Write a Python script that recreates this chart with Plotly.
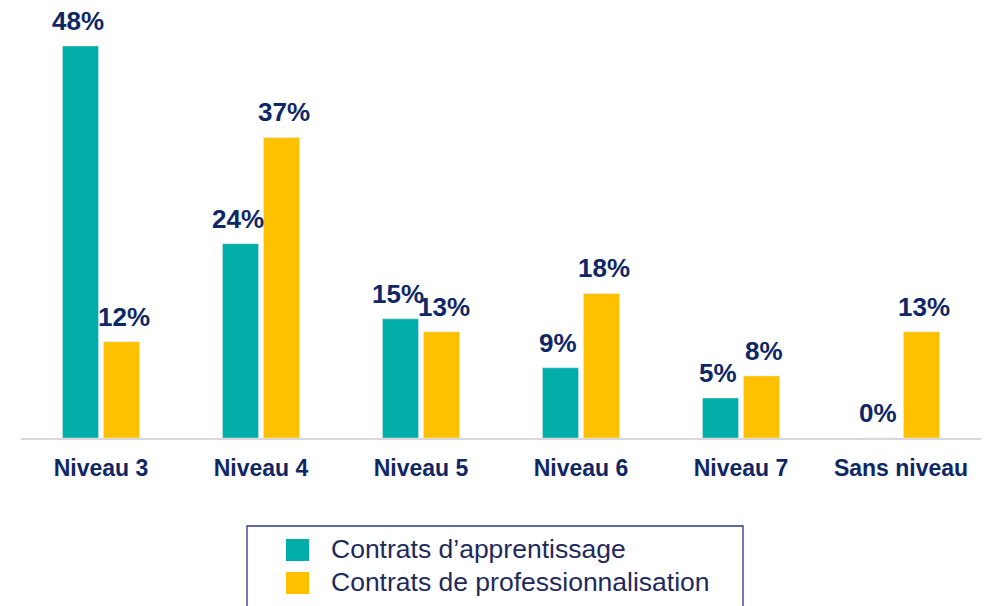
import plotly.graph_objects as go

# données
niveaux = ["Niveau 3", "Niveau 4", "Niveau 5", "Niveau 6", "Niveau 7", "Sans niveau"]
apprentissage = [48.0, 23.8, 14.6, 8.6, 4.9, 0.0]
professionnalisation = [11.8, 36.8, 13.0, 17.7, 7.6, 13.0]
series_names = ["Contrats d\u2019apprentissage", "Contrats de professionnalisation"]

TEAL = "#00ADA8"
YELLOW = "#FFC000"
NAVY = "#0E2766"
FONT = "Liberation Sans, Arial, sans-serif"

fig = go.Figure()
fig.add_trace(go.Bar(x=niveaux, y=apprentissage, name=series_names[0],
                     marker=dict(color=TEAL), showlegend=False))
fig.add_trace(go.Bar(x=niveaux, y=professionnalisation, name=series_names[1],
                     marker=dict(color=YELLOW), showlegend=False))

# étiquettes de valeurs
annotations = []
for vals, shift in [(apprentissage, -23), (professionnalisation, 23)]:
    for cat, v in zip(niveaux, vals):
        annotations.append(dict(
            x=cat, y=v, xref="x", yref="y", text=f"{v:.0f}%",
            showarrow=False, xshift=shift, yshift=25, yanchor="middle",
            borderpad=0,
            font=dict(family=FONT, size=26, color=NAVY, weight="bold"),
        ))

# légende dessinée à la main (cadre plus large que le contenu)
shapes = [dict(type="rect", xref="paper", yref="paper",
               x0=(247 - 21) / 960, x1=(743 - 21) / 960,
               y0=(438 - 640) / 418, y1=(438 - 526) / 418,
               line=dict(color="#2B3A78", width=1.3), fillcolor="rgba(0,0,0,0)")]
for i, (name, col) in enumerate(zip(series_names, [TEAL, YELLOW])):
    yc = 550 + i * 33
    shapes.append(dict(type="rect", xref="paper", yref="paper",
                       x0=(286 - 21) / 960, x1=(309 - 21) / 960,
                       y0=(438 - yc - 11) / 418, y1=(438 - yc + 11) / 418,
                       line=dict(width=0), fillcolor=col))
    annotations.append(dict(x=(329 - 21) / 960, y=(438 - yc + 1) / 418,
                            xref="paper", yref="paper", text=name,
                            showarrow=False, xanchor="left", yanchor="middle",
                            font=dict(family=FONT, size=26.5, color="#1F2A5C")))

fig.update_layout(
    width=987, height=606,
    margin=dict(l=21, r=6, t=20, b=168),
    plot_bgcolor="white", paper_bgcolor="white",
    barmode="group", bargap=0.4875, bargroupgap=0.12,
    xaxis=dict(showline=True, linecolor="#D9D9D9", linewidth=2,
               ticks="", ticklabelstandoff=8,
               tickfont=dict(family=FONT, size=23, color=NAVY, weight="bold")),
    yaxis=dict(visible=False, range=[0, 48 * 418 / 392]),
    annotations=annotations, shapes=shapes,
)

# pas de marge de page autour de la figure
fig.write_html("out.html", config={"displayModeBar": False},
               post_script="document.body.style.margin='0';")
